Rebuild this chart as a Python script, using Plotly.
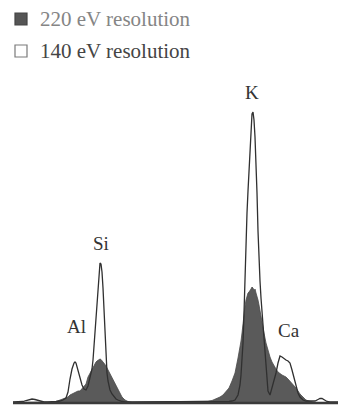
import plotly.graph_objects as go

# EDS spectrum sampled on detector channels (non-uniform step: finer across the narrow peaks)
channel = [
    13, 18, 23, 26, 29, 32, 35, 38, 41, 44, 48, 52, 56, 60,
    63, 66, 68, 70, 72, 74, 75, 76, 78, 80, 82, 84, 86, 88, 90,
    92, 93, 94, 95, 96, 97, 98, 99, 100, 101, 102, 103, 104, 105, 106, 107, 108,
    110, 112, 114, 116, 118, 120, 122, 125, 128,
    132, 136, 140, 145, 150, 155, 160, 165, 170, 175, 180, 185, 190, 195, 200,
    204, 208, 212, 216, 220, 223, 226, 229, 232,
    235, 238, 240, 241, 242, 243, 244, 245, 246, 247, 248, 249, 250, 251, 252,
    253, 254, 255, 256, 257, 258, 259, 260, 261, 262,
    264, 266, 268, 270, 272, 274, 276, 278, 280, 282, 284, 286, 288, 290, 292,
    294, 296, 298, 300, 303, 306, 309, 312, 315, 318, 320, 322, 324, 327, 330,
    334, 338,
]

# counts recorded with 220 eV detector resolution
counts_220 = [
    0.5, 0.5, 0.5, 0.5, 0.5, 0.5, 0.5, 0.5, 0.5, 0.5, 0.5, 1, 1.5, 3,
    4, 5, 6, 8, 9, 10, 10.5, 11, 12, 12, 14, 16, 19, 26, 30,
    34, 36, 38, 39.5, 41, 42, 43, 43.5, 44, 43.5, 42.5, 41, 40, 38.5, 37, 35, 33,
    29, 25, 21, 17, 13, 10, 6, 3, 1.5,
    0.5, 0.5, 0.5, 0.5, 0.8, 1, 1, 1, 1, 1.2, 1.5, 1.5, 1.5, 1.5, 1.5,
    1.5, 2, 2.5, 4, 6, 8, 11, 15, 22,
    30, 45, 55, 62, 70, 82, 90, 97, 103, 107, 110, 111, 112, 114, 116,
    115, 112, 114, 110, 107, 103, 98, 92, 85, 80,
    70, 60, 52, 46, 41, 37, 34, 31, 29, 28, 27, 26, 24, 22, 20,
    18, 15, 12, 9, 6, 3, 2, 1, 0.5, 0.5, 0.5, 0.5, 0.5, 0.5, 0.5,
    0.5, 0.5,
]

# counts recorded with 140 eV detector resolution
counts_140 = [
    1, 1, 1.5, 2.5, 3.5, 4, 3.5, 2.5, 1.5, 1, 1, 1, 1.5, 2,
    3, 5, 11, 24, 34, 40, 41, 40, 33, 24, 18, 14, 13, 17, 26,
    34, 43, 58, 75, 90, 104, 118, 131, 140, 139, 131, 115, 94, 70, 45, 30, 22,
    13, 9, 6, 4, 3, 2, 1.5, 1, 1,
    1, 1, 1, 1, 1, 1, 1, 1, 1, 1, 1, 1, 1, 1, 1,
    1, 1, 1, 1, 1, 1, 1, 1.5, 2,
    3, 8, 18, 28, 42, 60, 90, 128, 160, 190, 212, 234, 258, 278, 289,
    291, 283, 266, 243, 210, 172, 140, 122, 105, 92,
    60, 32, 12, 8, 15, 22, 30, 40, 47, 46, 44, 43, 42, 40, 33,
    25, 16, 10, 6, 3, 2, 2, 1.5, 2, 3.5, 4.5, 4.5, 3, 1.5, 1,
    1, 1,
]

series_names = ["220 eV resolution", "140 eV resolution"]

# characteristic lines and the channel of their peak
elements = ["Al", "Si", "K", "Ca"]
line_channels = [75, 100, 253, 280]

W, H = 340, 407
TOP, BOTTOM = 0, 1
Y_LOW, Y_HIGH = -3, 403
serif = "Liberation Serif, Times New Roman, serif"

fig = go.Figure()

fig.add_trace(go.Scatter(
    x=channel, y=counts_220, name=series_names[0], mode="lines",
    fill="tozeroy", fillcolor="#5a5a5a",
    line=dict(color="#4a4a4a", width=0.8),
    hoverinfo="skip",
))
fig.add_trace(go.Scatter(
    x=channel, y=counts_140, name=series_names[1], mode="lines",
    line=dict(color="#303030", width=1.3),
    hoverinfo="skip",
))

# zero-count baseline under the whole channel span
fig.add_shape(
    type="line", xref="x", yref="y",
    x0=channel[0], x1=channel[-1], y0=0, y1=0,
    line=dict(color="#3a3a3a", width=2.5),
)

# element labels placed relative to the peak they name
label_offsets = {"Al": (1, 36), "Si": (1, 20), "K": (-1, 20), "Ca": (9, 26)}
for el, ch in zip(elements, line_channels):
    peak = counts_140[channel.index(ch)]
    dx, dy = label_offsets[el]
    fig.add_annotation(
        x=ch, y=peak, xref="x", yref="y", text=el, showarrow=False,
        xshift=dx, yshift=dy, yanchor="middle", xanchor="center",
        font=dict(family=serif, size=19, color="#333333"),
    )


def px_x(px):
    return px / W


def px_y(py):
    plot_h = H - TOP - BOTTOM
    return (H - BOTTOM - py) / plot_h


# legend: filled swatch for 220 eV, open swatch for 140 eV
legend_rows = [
    dict(top=13, fill="#555555", line="#444444", text_color="#858585"),
    dict(top=45, fill="#ffffff", line="#7a7a7a", text_color="#454545"),
]
for name, row in zip(series_names, legend_rows):
    fig.add_shape(
        type="rect", xref="paper", yref="paper",
        x0=px_x(15), x1=px_x(27), y0=px_y(row["top"] + 12), y1=px_y(row["top"]),
        fillcolor=row["fill"], line=dict(color=row["line"], width=1.2),
    )
    fig.add_annotation(
        x=px_x(38), y=px_y(row["top"] + 6), xref="paper", yref="paper",
        text=name, showarrow=False, xanchor="left", yanchor="middle",
        font=dict(family=serif, size=21, color=row["text_color"]),
    )

fig.update_layout(
    width=W, height=H,
    margin=dict(l=0, r=0, t=TOP, b=BOTTOM),
    paper_bgcolor="white", plot_bgcolor="white",
    showlegend=False,
    xaxis=dict(range=[0, W], visible=False, fixedrange=True),
    yaxis=dict(range=[Y_LOW, Y_HIGH], visible=False, fixedrange=True),
)

fig.write_html("out.html")
